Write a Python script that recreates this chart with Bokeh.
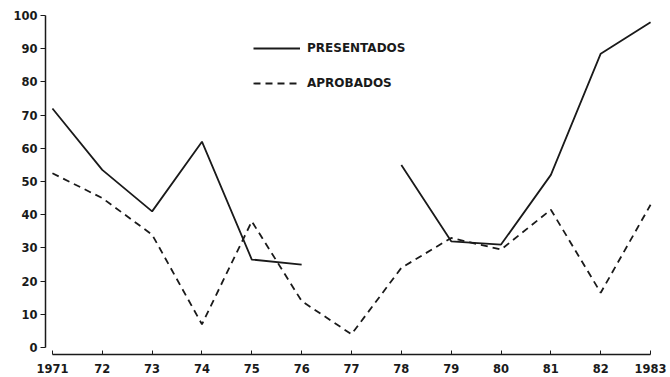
import math
from bokeh.plotting import figure
from bokeh.models import Legend, LegendItem, FixedTicker
from bokeh.embed import file_html
from bokeh.resources import INLINE

years = [1971, 1972, 1973, 1974, 1975, 1976, 1977, 1978, 1979, 1980, 1981, 1982, 1983]
presentados = [72, 53.5, 41, 62, 26.5, 25, float('nan'), 55, 32, 31, 52, 88.5, 98]
aprobados = [52.5, 45, 34, 7, 38, 14, 4, 24, 33, 29.5, 41.5, 16.5, 43]
year_labels = ["1971", "72", "73", "74", "75", "76", "77", "78", "79", "80", "81", "82", "1983"]
y_ticks = [0, 10, 20, 30, 40, 50, 60, 70, 80, 90, 100]

FONT = "DejaVu Sans"
INK = "#1a1a1a"

p = figure(width=670, height=377, output_backend="svg", toolbar_location=None,
           x_range=(1970.861, 1983.40), y_range=(-2.1, 100),
           min_border_left=45, min_border_right=0, min_border_top=15, min_border_bottom=23)
p.outline_line_color = None
p.grid.visible = False
p.background_fill_color = "white"

r1 = p.line(years, presentados, line_color=INK, line_width=1.8)
r2 = p.line(years, aprobados, line_color=INK, line_width=1.8, line_dash="7 5")

xa = p.xaxis[0]
xa.ticker = FixedTicker(ticks=years)
xa.major_label_overrides = {y: l for y, l in zip(years, year_labels)}
xa.bounds = (1971, 1983)
xa.minor_tick_line_color = None
xa.major_tick_in = 4
xa.major_tick_out = 0
xa.major_label_standoff = 9
xa.axis_line_color = INK
xa.axis_line_width = 1.5
xa.major_tick_line_color = INK
xa.major_label_text_font = FONT
xa.major_label_text_font_style = "bold"
xa.major_label_text_font_size = "11.5px"
xa.major_label_text_color = INK

ya = p.yaxis[0]
ya.ticker = FixedTicker(ticks=y_ticks)
ya.bounds = (0, 100)
ya.minor_tick_line_color = None
ya.major_tick_in = 0
ya.major_tick_out = 5
ya.major_label_standoff = 3
ya.axis_line_color = INK
ya.axis_line_width = 1.5
ya.major_tick_line_color = INK
ya.major_label_text_font = FONT
ya.major_label_text_font_style = "bold"
ya.major_label_text_font_size = "11.5px"
ya.major_label_text_color = INK

legend = Legend(items=[LegendItem(label="PRESENTADOS", renderers=[r1]),
                       LegendItem(label="APROBADOS", renderers=[r2])],
                location=(208, 261), orientation="vertical",
                glyph_width=47, glyph_height=20, label_height=20, spacing=15,
                padding=0, margin=0, label_standoff=7,
                border_line_color=None, background_fill_alpha=0,
                label_text_font=FONT, label_text_font_style="bold",
                label_text_font_size="12px", label_text_color=INK)
p.add_layout(legend, "center")

open("out.html", "w").write(file_html(p, INLINE))
